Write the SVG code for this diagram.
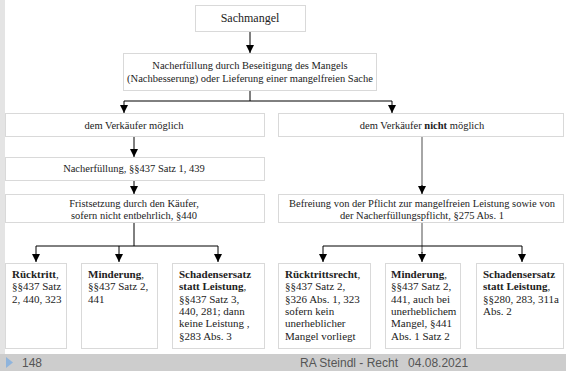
<svg xmlns="http://www.w3.org/2000/svg" width="566" height="371" viewBox="0 0 566 371">
<defs>
<marker id="ah" viewBox="0 0 10 10" refX="10" refY="5" markerWidth="8" markerHeight="8" markerUnits="userSpaceOnUse" orient="auto">
<path d="M0,0 L10,5 L0,10 z" fill="#000"/>
</marker>
<style>
.box{fill:#fff;stroke:#d9d9d9;stroke-width:1}
.t{font-family:"Liberation Serif","Tinos","Noto Serif","DejaVu Serif","FreeSerif","Times New Roman",Times,serif;font-size:10.5px;fill:#222;text-anchor:middle}
.s{font-family:"Liberation Serif","Tinos","Noto Serif","DejaVu Serif","FreeSerif","Times New Roman",Times,serif;font-size:11px;fill:#222}
.b{font-weight:bold}
.c{fill:none;stroke:#000;stroke-width:1}
.g{fill:none;stroke:#888;stroke-width:1.5}
.ft{font-family:"Liberation Sans",Arial,sans-serif;font-size:12px;fill:#555}
</style>
</defs>
<rect x="0" y="0" width="566" height="371" fill="#fff"/>
<rect x="0" y="0" width="5" height="354" fill="#e4e4e4"/>
<rect x="0" y="354" width="566" height="17" fill="#cdcdcd"/>

<g id="connectors">
<line class="c" x1="250" y1="31" x2="250" y2="53" marker-end="url(#ah)"/>
<path class="c" d="M250,91 V101 M124,101 H392"/>
<line class="c" x1="124" y1="101" x2="124" y2="113" marker-end="url(#ah)"/>
<line class="c" x1="392" y1="101" x2="392" y2="113" marker-end="url(#ah)"/>
<line class="c" x1="134" y1="136" x2="134" y2="157" marker-end="url(#ah)"/>
<line class="c" x1="134" y1="180" x2="134" y2="194" marker-end="url(#ah)"/>
<line class="g" x1="422" y1="136" x2="422" y2="186"/>
<line class="c" x1="422" y1="185" x2="422" y2="194" marker-end="url(#ah)"/>
<path class="c" d="M134,222 V246 M36,246 H218"/>
<line class="c" x1="36" y1="246" x2="36" y2="262" marker-end="url(#ah)"/>
<line class="c" x1="119" y1="246" x2="119" y2="262" marker-end="url(#ah)"/>
<line class="c" x1="218" y1="246" x2="218" y2="262" marker-end="url(#ah)"/>
<path class="g" d="M422,222 V253"/>
<path class="c" d="M323,246 H522"/>
<line class="c" x1="323" y1="246" x2="323" y2="262" marker-end="url(#ah)"/>
<line class="c" x1="422" y1="252" x2="422" y2="262" marker-end="url(#ah)"/>
<line class="c" x1="522" y1="246" x2="522" y2="262" marker-end="url(#ah)"/>
</g>

<g id="sachmangel">
<rect class="box" x="195.5" y="5.5" width="110" height="26"/>
<text class="t" x="250" y="22" style="font-size:12px">Sachmangel</text>
</g>
<g id="nacherfuellung">
<rect class="box" x="123.5" y="53.5" width="253" height="37"/>
<text class="t" x="250" y="69">Nacherfüllung durch Beseitigung des Mangels</text>
<text class="t" x="250" y="82">(Nachbesserung) oder Lieferung einer mangelfreien Sache</text>
</g>
<g id="moeglich">
<rect class="box" x="5.5" y="113.5" width="259" height="23"/>
<text class="t" x="134" y="129">dem Verkäufer möglich</text>
</g>
<g id="nichtmoeglich">
<rect class="box" x="278.5" y="113.5" width="285" height="23"/>
<text class="t" x="422" y="129">dem Verkäufer <tspan class="b">nicht</tspan> möglich</text>
</g>
<g id="nacherfuellung2">
<rect class="box" x="5.5" y="157.5" width="259" height="23"/>
<text class="t" x="134" y="172">Nacherfüllung, §§437 Satz 1, 439</text>
</g>
<g id="fristsetzung">
<rect class="box" x="5.5" y="194.5" width="259" height="28"/>
<text class="t" x="134" y="207">Fristsetzung durch den Käufer,</text>
<text class="t" x="134" y="219">sofern nicht entbehrlich, §440</text>
</g>
<g id="befreiung">
<rect class="box" x="278.5" y="194.5" width="285" height="28"/>
<text class="t" x="422" y="207">Befreiung von der Pflicht zur mangelfreien Leistung sowie von</text>
<text class="t" x="422" y="219">der Nacherfüllungspflicht, §275 Abs. 1</text>
</g>

<g id="ruecktritt">
<rect class="box" x="5.5" y="263.5" width="61" height="85"/>
<text class="s" x="12" y="278"><tspan class="b">Rücktritt</tspan>,<tspan x="12" dy="12.3">§§437 Satz</tspan><tspan x="12" dy="12.3">2, 440, 323</tspan></text>
</g>
<g id="minderung-l">
<rect class="box" x="81.5" y="263.5" width="76" height="85"/>
<text class="s" x="88" y="278"><tspan class="b">Minderung</tspan>,<tspan x="88" dy="12.3">§§437 Satz 2,</tspan><tspan x="88" dy="12.3">441</tspan></text>
</g>
<g id="schadensersatz-l">
<rect class="box" x="172.5" y="263.5" width="92" height="85"/>
<text class="s" x="179" y="278"><tspan class="b">Schadensersatz</tspan><tspan x="179" dy="12.3" class="b">statt Leistung</tspan>,<tspan x="179" dy="12.3">§§437 Satz 3,</tspan><tspan x="179" dy="12.3">440, 281; dann</tspan><tspan x="179" dy="12.3">keine Leistung ,</tspan><tspan x="179" dy="12.3">§283 Abs. 3</tspan></text>
</g>
<g id="ruecktrittsrecht">
<rect class="box" x="278.5" y="263.5" width="92" height="85"/>
<text class="s" x="285" y="278"><tspan class="b">Rücktrittsrecht</tspan>,<tspan x="285" dy="12.3">§§437 Satz 2,</tspan><tspan x="285" dy="12.3">§326 Abs. 1, 323</tspan><tspan x="285" dy="12.3">sofern kein</tspan><tspan x="285" dy="12.3">unerheblicher</tspan><tspan x="285" dy="12.3">Mangel vorliegt</tspan></text>
</g>
<g id="minderung-r">
<rect class="box" x="385.5" y="263.5" width="75" height="85"/>
<text class="s" x="391" y="278"><tspan class="b">Minderung</tspan>,<tspan x="391" dy="12.3">§§437 Satz 2,</tspan><tspan x="391" dy="12.3">441, auch bei</tspan><tspan x="391" dy="12.3">unerheblichem</tspan><tspan x="391" dy="12.3">Mangel, §441</tspan><tspan x="391" dy="12.3">Abs. 1 Satz 2</tspan></text>
</g>
<g id="schadensersatz-r">
<rect class="box" x="476.5" y="263.5" width="87" height="85"/>
<text class="s" x="483" y="278"><tspan class="b">Schadensersatz</tspan><tspan x="483" dy="12.3" class="b">statt Leistung</tspan>,<tspan x="483" dy="12.3">§§280, 283, 311a</tspan><tspan x="483" dy="12.3">Abs. 2</tspan></text>
</g>

<g id="footer">
<path d="M6,357 L13,362.5 L6,368 z" fill="#8fb4dc"/>
<text class="ft" x="22" y="367">148</text>
<text class="ft" x="300" y="367" xml:space="preserve">RA Steindl - Recht   04.08.2021</text>
</g>
</svg>
